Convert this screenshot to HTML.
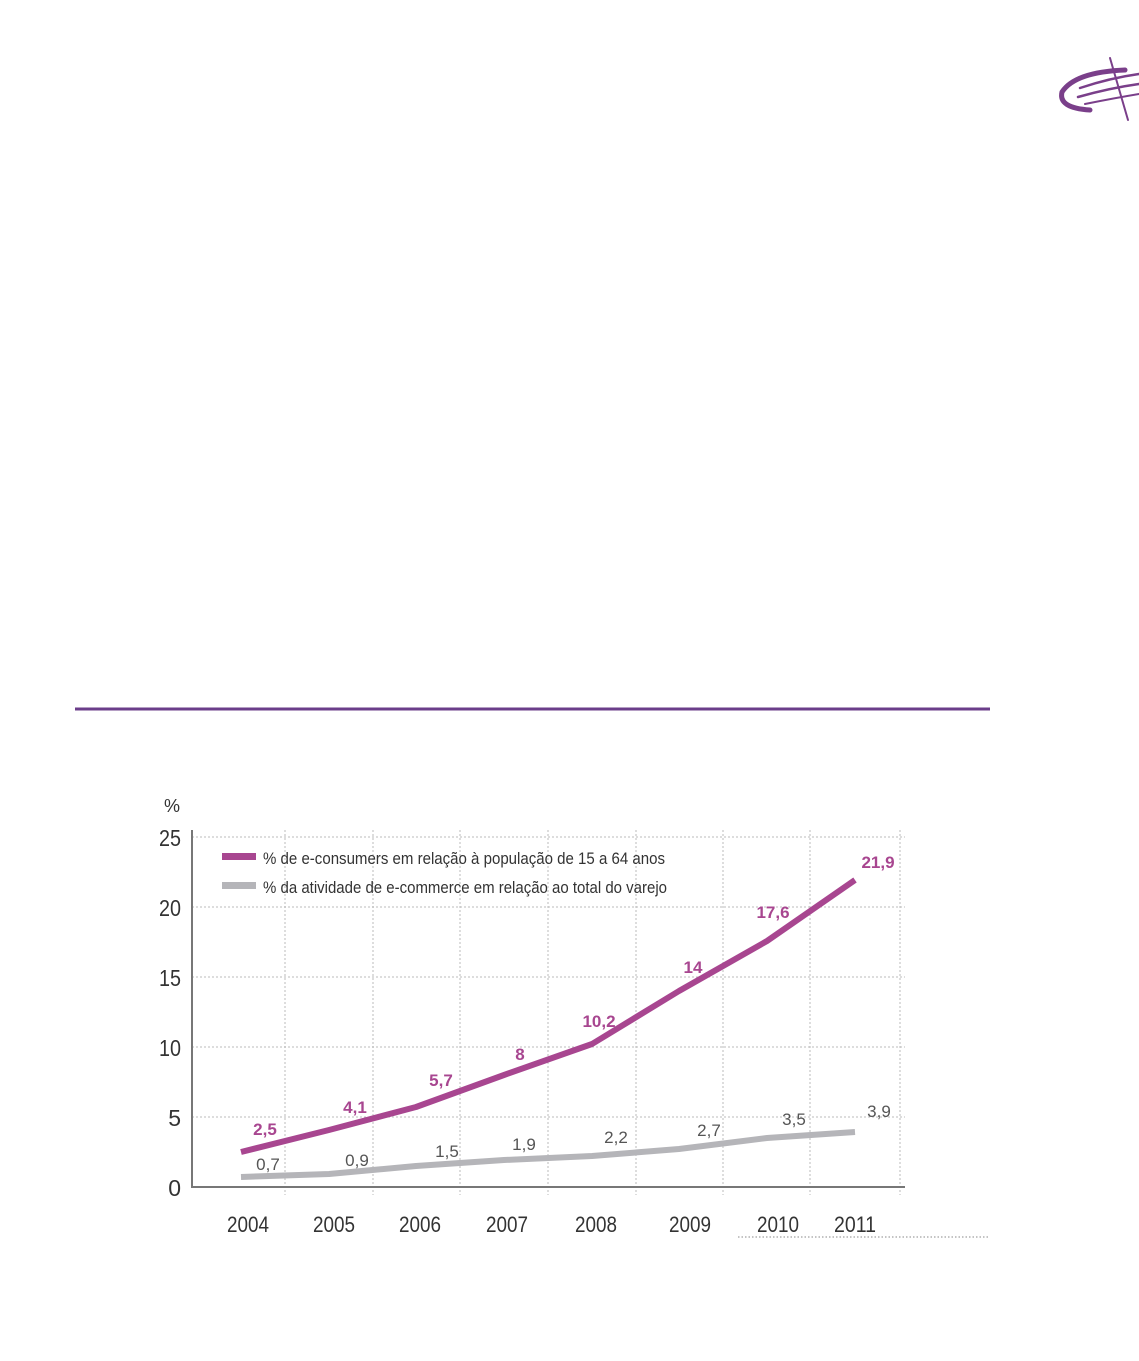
<!DOCTYPE html>
<html><head><meta charset="utf-8"><style>
html,body{margin:0;padding:0;background:#fff;}
svg{display:block;}
text{font-family:"Liberation Sans Narrow","Liberation Sans",sans-serif;}
</style></head><body>
<svg width="1139" height="1361" viewBox="0 0 1139 1361">
<g fill="none" stroke="#7a3f8a" stroke-linecap="round">
<path d="M1125 70 Q1075 72 1062 92 Q1058 108 1090 110" stroke-width="5"/>
<path d="M1080 88 Q1110 78 1139 74" stroke-width="2.5"/>
<path d="M1078 97 Q1110 88 1139 84" stroke-width="2.5"/>
<path d="M1085 104 Q1115 98 1139 94" stroke-width="2"/>
<path d="M1110 58 L1128 120" stroke-width="2"/>
</g>
<line x1="75" y1="709" x2="990" y2="709" stroke="#6b3d8a" stroke-width="3"/>
<g stroke="#bbb" stroke-width="1" stroke-dasharray="2,2">
<line x1="192" y1="837" x2="905" y2="837"/>
<line x1="192" y1="907" x2="905" y2="907"/>
<line x1="192" y1="977" x2="905" y2="977"/>
<line x1="192" y1="1047" x2="905" y2="1047"/>
<line x1="192" y1="1117" x2="905" y2="1117"/>
<line x1="285" y1="830" x2="285" y2="1195"/>
<line x1="373" y1="830" x2="373" y2="1195"/>
<line x1="460" y1="830" x2="460" y2="1195"/>
<line x1="548" y1="830" x2="548" y2="1195"/>
<line x1="636" y1="830" x2="636" y2="1195"/>
<line x1="723" y1="830" x2="723" y2="1195"/>
<line x1="810" y1="830" x2="810" y2="1195"/>
<line x1="900" y1="830" x2="900" y2="1195"/>
</g>
<line x1="192" y1="830" x2="192" y2="1188" stroke="#777" stroke-width="2"/>
<line x1="192" y1="1187" x2="905" y2="1187" stroke="#777" stroke-width="2"/>
<line x1="738" y1="1237" x2="988" y2="1237" stroke="#888" stroke-width="1" stroke-dasharray="1.5,2"/>
<g font-size="23" fill="#333" text-anchor="end">
<text x="180" y="812" font-size="18">%</text>
<text x="181" y="846" textLength="22" lengthAdjust="spacingAndGlyphs">25</text>
<text x="181" y="916" textLength="22" lengthAdjust="spacingAndGlyphs">20</text>
<text x="181" y="986" textLength="22" lengthAdjust="spacingAndGlyphs">15</text>
<text x="181" y="1056" textLength="22" lengthAdjust="spacingAndGlyphs">10</text>
<text x="181" y="1126">5</text>
<text x="181" y="1196">0</text>
</g>
<g font-size="22" fill="#333" text-anchor="middle">
<text x="248" y="1232" textLength="42" lengthAdjust="spacingAndGlyphs">2004</text><text x="334" y="1232" textLength="42" lengthAdjust="spacingAndGlyphs">2005</text><text x="420" y="1232" textLength="42" lengthAdjust="spacingAndGlyphs">2006</text><text x="507" y="1232" textLength="42" lengthAdjust="spacingAndGlyphs">2007</text><text x="596" y="1232" textLength="42" lengthAdjust="spacingAndGlyphs">2008</text><text x="690" y="1232" textLength="42" lengthAdjust="spacingAndGlyphs">2009</text><text x="778" y="1232" textLength="42" lengthAdjust="spacingAndGlyphs">2010</text><text x="855" y="1232" textLength="42" lengthAdjust="spacingAndGlyphs">2011</text>
</g>
<rect x="222" y="853" width="34" height="7" fill="#a84690"/>
<rect x="222" y="882" width="34" height="7" fill="#b5b5b9"/>
<text x="263" y="864" font-size="17" fill="#333" textLength="402" lengthAdjust="spacingAndGlyphs">% de e-consumers em relação à população de 15 a 64 anos</text>
<text x="263" y="893" font-size="17" fill="#333" textLength="404" lengthAdjust="spacingAndGlyphs">% da atividade de e-commerce em relação ao total do varejo</text>
<polyline fill="none" stroke="#b5b5b9" stroke-width="6" stroke-linejoin="round" points="241,1177 329,1174 416,1166 504,1160 592,1156 679,1149 767,1138 855,1132"/>
<polyline fill="none" stroke="#a84690" stroke-width="6" stroke-linejoin="round" points="241,1152 329,1130 416,1107 504,1075 592,1044 679,991 767,941 855,880"/>
<g font-size="17" font-weight="bold" fill="#a84690" text-anchor="middle">
<text x="265" y="1135">2,5</text><text x="355" y="1113">4,1</text><text x="441" y="1086">5,7</text><text x="520" y="1060">8</text><text x="599" y="1027">10,2</text><text x="693" y="973">14</text><text x="773" y="918">17,6</text><text x="878" y="868">21,9</text>
</g>
<g font-size="17" fill="#555" text-anchor="middle">
<text x="268" y="1170">0,7</text><text x="357" y="1166">0,9</text><text x="447" y="1157">1,5</text><text x="524" y="1150">1,9</text><text x="616" y="1143">2,2</text><text x="709" y="1136">2,7</text><text x="794" y="1125">3,5</text><text x="879" y="1117">3,9</text>
</g>
</svg>
</body></html>
